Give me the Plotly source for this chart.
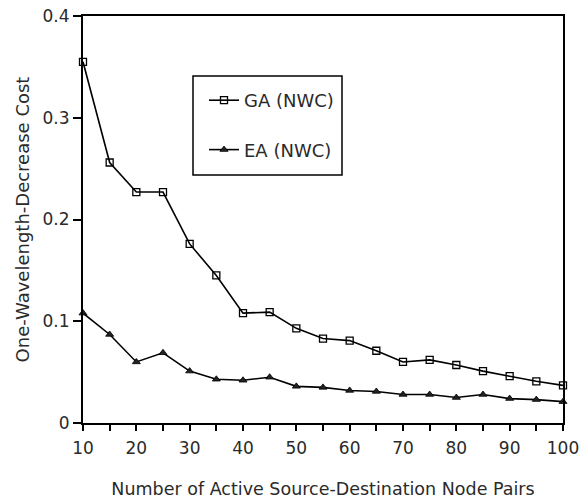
import plotly.graph_objects as go

x_pairs = [10, 15, 20, 25, 30, 35, 40, 45, 50, 55, 60, 65, 70, 75, 80, 85, 90, 95, 100]
ga_nwc = [0.355, 0.256, 0.227, 0.227, 0.176, 0.145, 0.108, 0.109, 0.093, 0.083, 0.081,
          0.071, 0.060, 0.062, 0.057, 0.051, 0.046, 0.041, 0.037]
ea_nwc = [0.108, 0.087, 0.060, 0.069, 0.051, 0.043, 0.042, 0.045, 0.036, 0.035, 0.032,
          0.031, 0.028, 0.028, 0.025, 0.028, 0.024, 0.023, 0.021]
x_tickvals = list(range(10, 101, 5))
x_ticktext = [str(v) if v % 10 == 0 else "" for v in x_tickvals]
y_tickvals = [0, 0.1, 0.2, 0.3, 0.4]
y_ticktext = ["0", "0.1", "0.2", "0.3", "0.4"]

FONT = "DejaVu Sans, Liberation Sans, Arial, sans-serif"
TXT = "#2a2a2a"

fig = go.Figure()
fig.add_trace(go.Scatter(
    x=x_pairs, y=ga_nwc, name="GA (NWC)", mode="lines+markers",
    line=dict(color="black", width=1.6),
    marker=dict(symbol="square-open", size=7, color="black", line=dict(width=1.3)),
    legendgroup="ga", cliponaxis=False,
))
fig.add_trace(go.Scatter(
    x=x_pairs, y=ea_nwc, name="EA (NWC)", mode="lines+markers",
    line=dict(color="black", width=1.6),
    marker=dict(symbol="triangle-up", size=7, color="#222", line=dict(width=0.8, color="black")),
    legendgroup="ea", cliponaxis=False,
))

fig.update_layout(
    width=581, height=504,
    margin=dict(l=83, r=18, t=16, b=81, autoexpand=False),
    paper_bgcolor="white", plot_bgcolor="white",
    font=dict(family=FONT, size=17, color=TXT),
    showlegend=True,
    legend=dict(
        x=(204 - 83) / 480, y=(423 - 82) / 407, xanchor="left", yanchor="top",
        bgcolor="rgba(0,0,0,0)", borderwidth=0,
        tracegroupgap=23, traceorder="grouped",
        font=dict(family=FONT, size=18, color=TXT),
    ),
    shapes=[dict(
        type="rect", xref="paper", yref="paper",
        x0=(193 - 83) / 480, x1=(342 - 83) / 480,
        y0=(423 - 175) / 407, y1=(423 - 76) / 407,
        line=dict(color="black", width=1.5), fillcolor="rgba(0,0,0,0)",
    )],
    xaxis=dict(
        range=[10, 100], tickmode="array", tickvals=x_tickvals, ticktext=x_ticktext,
        ticks="outside", ticklen=6, tickwidth=1.5, tickcolor="black",
        showline=True, linecolor="black", linewidth=2, mirror=True,
        showgrid=False, zeroline=False, automargin=False,
        ticklabelstandoff=3,
        tickfont=dict(family=FONT, size=17, color=TXT),
        title=dict(text="Number of Active Source-Destination Node Pairs",
                   font=dict(family=FONT, size=17.5, color=TXT), standoff=25),
    ),
    yaxis=dict(
        range=[0, 0.4], tickmode="array", tickvals=y_tickvals, ticktext=y_ticktext,
        ticks="outside", ticklen=8, tickwidth=1.5, tickcolor="black",
        showline=True, linecolor="black", linewidth=2, mirror=True,
        showgrid=False, zeroline=False, automargin=False,
        tickfont=dict(family=FONT, size=17, color=TXT),
        title=dict(text="One-Wavelength-Decrease Cost",
                   font=dict(family=FONT, size=18, color=TXT), standoff=8),
    ),
)

fig.write_html("out.html")
